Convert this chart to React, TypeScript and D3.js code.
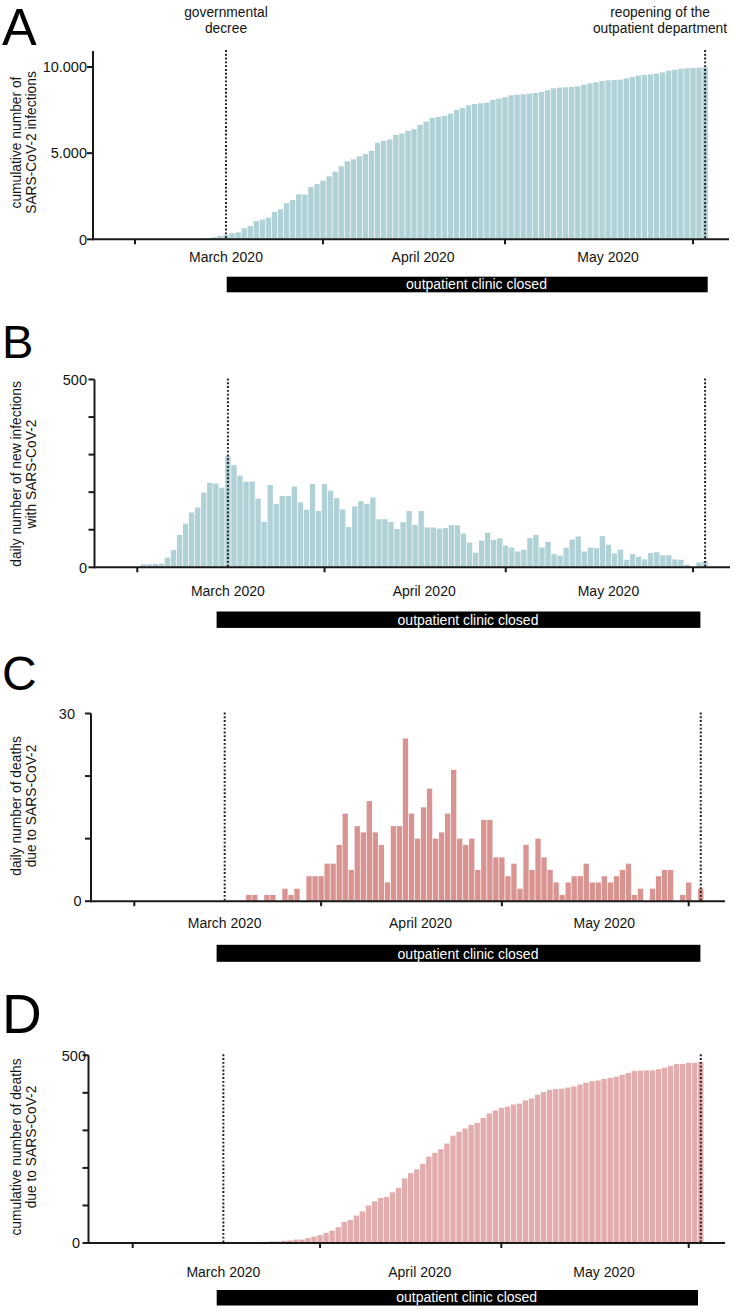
import React from 'react';
import * as d3 from 'd3';

// ---------- DATA ----------
// day index: 0 = 1 March 2020
const monthTickDays = [0, 31, 61, 92]; // Mar 1, Apr 1, May 1, Jun 1
const monthLabels = ['March 2020', 'April 2020', 'May 2020'];
const monthLabelDays = [15, 47.5, 78];
const decreeDay = 15; // 16 March 2020
const reopeningDay = 94; // 3 June 2020

// A: cumulative number of SARS-CoV-2 infections (from day 11)
const cumInfectionsStart = 11;
const cumulativeInfections = [
  40, 77, 116, 193, 250, 348, 406, 638, 774, 1064, 1141, 1257, 1586, 1741, 2108, 2282, 2611, 2600,
  3037, 3211, 3404, 3656, 3926, 4236, 4526, 4642, 4816, 4952, 5135, 5600, 5716, 5793, 6063, 6140,
  6295, 6391, 6642, 6835, 7047, 7104, 7162, 7297, 7509, 7625, 7780, 7857, 7895, 7934, 8088, 8165,
  8243, 8358, 8397, 8416, 8455, 8493, 8551, 8647, 8763, 8802, 8821, 8840, 8879, 8975, 9052, 9110,
  9187, 9226, 9245, 9264, 9341, 9419, 9496, 9534, 9573, 9611, 9689, 9785, 9843, 9901, 9920, 9940,
  9959, 9997,
];

// B: daily number of new infections (from day 1)
const dailyInfectionsStart = 1;
const dailyInfections = [
  8, 8, 9, 10, 26, 46, 86, 116, 146, 159, 199, 225, 223, 212, 296, 272, 244, 228, 228, 183,
  121, 219, 169, 190, 190, 215, 173, 153, 222, 150, 222, 204, 184, 154, 107, 162, 176, 169, 186, 128,
  128, 121, 102, 120, 150, 113, 150, 106, 106, 103, 105, 112, 112, 90, 66, 39, 71, 92, 73, 77,
  58, 52, 42, 47, 78, 86, 53, 68, 35, 31, 52, 74, 82, 42, 52, 51, 83, 60, 37, 47,
  20, 35, 28, 21, 38, 40, 32, 32, 21, 20, 7, 0, 13, 16,
];

// C: daily number of deaths (from day 19)
const dailyDeathsStart = 19;
const dailyDeaths = [
  1, 1, 0, 1, 1, 0, 2, 1, 2, 0, 4, 4, 4, 6, 6, 9, 14, 5, 12, 11, 16, 11, 9, 3, 12, 12, 26,
  14, 10, 15, 18, 10, 11, 14, 21, 10, 9, 10, 5, 13, 13, 7, 7, 4, 6, 2, 9, 5, 10, 7, 5, 3, 1,
  3, 4, 4, 6, 3, 3, 4, 3, 4, 5, 6, 1, 2, 0, 2, 4, 5, 5, 0, 1, 3, 0, 2,
];

// D: cumulative number of deaths (from day 19)
const cumDeathsStart = 19;
const cumulativeDeaths = [
  1, 2, 2, 3, 4, 4, 6, 7, 9, 9, 13, 17, 21, 27, 33, 42, 56, 61, 73, 84, 100, 111, 120, 123,
  135, 147, 172, 186, 196, 211, 230, 240, 250, 265, 286, 296, 305, 315, 320, 333, 345, 353,
  360, 363, 369, 371, 380, 385, 395, 402, 408, 410, 411, 414, 417, 422, 427, 431, 433, 437,
  440, 443, 448, 453, 458, 459, 460, 460, 463, 467, 472, 477, 477, 480, 480, 482,
];

// ---------- LAYOUT ----------
const deFormat = d3.formatLocale({ decimal: ',', thousands: '.', grouping: [3], currency: ['', '€'] }).format(',');

const FONT = '"Liberation Sans", Arial, Helvetica, sans-serif';
const TXT = '#141414';

const panels = [
  {
    letter: 'A', letterSize: 52, letterY: 44.5,
    data: cumulativeInfections, start: cumInfectionsStart, color: '#b0d1d6',
    x0: 135, x92: 693, axisX: 93, axisEnd: 729,
    yBottom: 239.3, yTop: 51, yMax: 10930,
    yTicks: [0, 5000, 10000], yLabelled: [0, 5000, 10000], tickLabelRight: [87, 87, 87],
    labelLines: ['cumulative number of', 'SARS-CoV-2 infections'], labelCenterY: 142.5,
    monthY: 262, closed: [226.7, 707.7], closedY: [276.7, 292.3], closedTextX: 476.5,
  },
  {
    letter: 'B', letterSize: 47, letterY: 358.3,
    data: dailyInfections, start: dailyInfectionsStart, color: '#b0d1d6',
    x0: 137.3, x92: 693, axisX: 94.5, axisEnd: 730,
    yBottom: 567.3, yTop: 379.5, yMax: 500,
    yTicks: [0, 100, 200, 300, 400, 500], yLabelled: [0, 500], tickLabelRight: [87, 87],
    labelLines: ['daily number of new infections', 'with SARS-CoV-2'], labelCenterY: 474,
    monthY: 595.5, closed: [216.6, 700.4], closedY: [611.5, 627.9], closedTextX: 468,
  },
  {
    letter: 'C', letterSize: 48, letterY: 689.5,
    data: dailyDeaths, start: dailyDeathsStart, color: '#d99492',
    x0: 134.3, x92: 688.7, axisX: 91, axisEnd: 725,
    yBottom: 901.2, yTop: 713.5, yMax: 30,
    yTicks: [0, 10, 20, 30], yLabelled: [0, 30], tickLabelRight: [81.5, 75],
    labelLines: ['daily number of deaths', 'due to SARS-CoV-2'], labelCenterY: 806,
    monthY: 927.5, closed: [216.6, 700.4], closedY: [944.8, 961.8], closedTextX: 468,
  },
  {
    letter: 'D', letterSize: 55, letterY: 1033.3,
    data: cumulativeDeaths, start: cumDeathsStart, color: '#e2adac',
    x0: 132.7, x92: 688.7, axisX: 88.5, axisEnd: 725,
    yBottom: 1243, yTop: 1055.3, yMax: 500,
    yTicks: [0, 100, 200, 300, 400, 500], yLabelled: [0, 500], tickLabelRight: [80, 86],
    labelLines: ['cumulative number of deaths', 'due to SARS-CoV-2'], labelCenterY: 1147,
    monthY: 1276.5, closed: [216.7, 698], closedY: [1290, 1305.5], closedTextX: 466.7,
  },
];

function Panel({ p, idx }: { p: any; idx: number }) {
  const x = d3.scaleLinear().domain([0, 92]).range([p.x0, p.x92]);
  const y = d3.scaleLinear().domain([0, p.yMax]).range([p.yBottom, p.yTop]);
  const step = x(1) - x(0);
  const fmt = idx === 0 ? deFormat : d3.format('d');
  const dotted = '1.9 1.9';
  return (
    <g>
      <text x={2} y={p.letterY} fontSize={p.letterSize} fontFamily={FONT} fill="#000">{p.letter}</text>
      {/* bars */}
      {p.data.map((v: number, i: number) => {
        const d = p.start + i;
        const top = y(v);
        return (
          <rect key={i} x={x(d) - step / 2 + 0.35} width={step - 0.7}
            y={top} height={Math.max(0, p.yBottom - top)} fill={p.color} />
        );
      })}
      {/* dotted event lines */}
      {[decreeDay, reopeningDay].map((d) => (
        <line key={d} x1={x(d)} x2={x(d)} y1={p.yTop - 1} y2={p.yBottom}
          stroke="#222" strokeWidth={2} strokeDasharray={dotted} />
      ))}
      {/* y axis */}
      <line x1={p.axisX} x2={p.axisX} y1={p.yTop} y2={p.yBottom + 1} stroke="#1a1a1a" strokeWidth={2} />
      {p.yTicks.map((t: number) => (
        <line key={t} x1={p.axisX - 6} x2={p.axisX} y1={y(t)} y2={y(t)} stroke="#1a1a1a" strokeWidth={2} />
      ))}
      {p.yLabelled.map((t: number, k: number) => (
        <text key={t} x={p.tickLabelRight[k]} y={y(t)} dy="0.36em" textAnchor="end" fontSize={14.5}
          fontFamily={FONT} fill={TXT}>{fmt(t)}</text>
      ))}
      {/* x axis */}
      <line x1={p.axisX} x2={p.axisEnd} y1={p.yBottom} y2={p.yBottom} stroke="#1a1a1a" strokeWidth={2} />
      {monthTickDays.map((d) => (
        <line key={d} x1={x(d)} x2={x(d)} y1={p.yBottom} y2={p.yBottom + 5} stroke="#1a1a1a" strokeWidth={2} />
      ))}
      {monthLabels.map((m, k) => (
        <text key={m} x={x(monthLabelDays[k])} y={p.monthY} textAnchor="middle" fontSize={14}
          fontFamily={FONT} fill={TXT}>{m}</text>
      ))}
      {/* y label */}
      <text transform={`translate(0,${p.labelCenterY}) rotate(-90)`} textAnchor="middle"
        fontSize={13.8} fontFamily={FONT} fill={TXT}>
        <tspan x={0} y={21}>{p.labelLines[0]}</tspan>
        <tspan x={0} y={36}>{p.labelLines[1]}</tspan>
      </text>
      {/* closed bar */}
      <rect x={p.closed[0]} y={p.closedY[0]} width={p.closed[1] - p.closed[0]}
        height={p.closedY[1] - p.closedY[0]} fill="#000" />
      <text x={p.closedTextX} y={p.closedY[1] - 3.2} textAnchor="middle" fontSize={14}
        fontFamily={FONT} fill="#fff">outpatient clinic closed</text>
    </g>
  );
}

export default function App() {
  const pA = panels[0];
  const xA = d3.scaleLinear().domain([0, 92]).range([pA.x0, pA.x92]);
  return (
    <svg width={734} height={1310} style={{ position: 'absolute', left: 0, top: 0, background: '#fff' }}>
      <rect width={734} height={1310} fill="#fff" />
      {panels.map((p, i) => <Panel key={p.letter} p={p} idx={i} />)}
      <text textAnchor="middle" fontSize={13.8} fontFamily={FONT} fill={TXT}>
        <tspan x={xA(decreeDay)} y={16.7}>governmental</tspan>
        <tspan x={xA(decreeDay)} y={32.5}>decree</tspan>
      </text>
      <text textAnchor="middle" fontSize={13.8} fontFamily={FONT} fill={TXT}>
        <tspan x={660} y={16.7}>reopening of the</tspan>
        <tspan x={660} y={32.5}>outpatient department</tspan>
      </text>
    </svg>
  );
}
